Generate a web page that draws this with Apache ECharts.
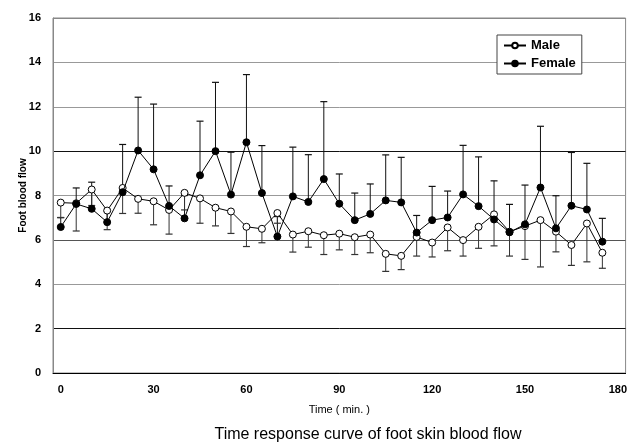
<!DOCTYPE html>
<html>
<head>
<meta charset="utf-8">
<script src="https://cdn.jsdelivr.net/npm/echarts@6/dist/echarts.min.js"></script>
<style>
  html, body { margin: 0; padding: 0; background: #fff; }
  #chart { width: 630px; height: 442px; }
</style>
</head>
<body>
<div id="chart"></div>
<script>
// Time after start (min.), one category every 5 minutes
const times = ['0','5','10','15','20','25','30','35','40','45','50','55','60','65','70','75','80','85','90',
  '95','100','105','110','115','120','125','130','135','140','145','150','155','160','165','170','175','180'];

// Male: mean and mean - SD
const maleMean  = [7.68,7.65,8.27,7.32,8.34,7.85,7.74,7.35,8.12,7.87,7.45,7.28,6.59,6.50,7.21,6.24,6.39,6.21,
  6.28,6.12,6.24,5.37,5.28,6.13,5.88,6.56,5.99,6.59,7.15,6.37,6.62,6.89,6.37,5.77,6.74,5.42];
const maleLower = [7.01,6.40,7.55,6.46,7.19,7.20,6.68,6.26,7.35,6.75,6.63,6.29,5.70,5.87,6.75,5.45,5.67,5.34,
  5.55,5.34,5.42,4.58,4.66,5.27,5.23,5.51,5.27,5.62,5.73,5.27,5.12,4.78,5.46,4.85,5.01,4.72];

// Female: mean and mean + SD
const femaleMean  = [6.58,7.62,7.40,6.80,8.15,10.03,9.18,7.53,6.97,8.91,10.00,8.04,10.40,8.11,6.15,7.96,7.71,8.74,
  7.63,6.89,7.17,7.78,7.69,6.33,6.89,7.01,8.05,7.52,6.92,6.34,6.70,8.36,6.52,7.54,7.37,5.92];
const femaleUpper = [7.00,8.34,8.60,7.30,10.30,12.43,12.12,8.43,8.00,11.35,13.10,9.95,13.45,10.25,7.05,10.18,9.84,12.23,
  8.97,8.11,8.52,9.83,9.72,7.10,8.41,8.20,10.26,9.74,8.66,7.60,8.47,11.12,7.99,9.94,9.45,6.97];

const yMin = 0, yMax = 16, yStep = 2;

const FONT = '"Liberation Sans", Arial, sans-serif';

function barData(mean, bound) {
  return mean.map((m, i) => [i, m, bound[i]]);
}

// One-sided error bar: stem from the mean to the bound, with a cap at the bound
function errorBar(color) {
  return function (params, api) {
    const x = api.value(0);
    const a = api.coord([x, api.value(1)]);
    const b = api.coord([x, api.value(2)]);
    const half = 3.5;
    return {
      type: 'group',
      children: [
        { type: 'line', shape: { x1: a[0], y1: a[1], x2: b[0], y2: b[1] },
          style: { stroke: color, lineWidth: 1 } },
        { type: 'line', shape: { x1: b[0] - half, y1: b[1], x2: b[0] + half, y2: b[1] },
          style: { stroke: color, lineWidth: 1.2 } }
      ]
    };
  };
}

const chart = echarts.init(document.getElementById('chart'), null, { renderer: 'canvas' });

chart.setOption({
  animation: false,
  backgroundColor: '#fff',
  textStyle: { fontFamily: FONT },
  title: {
    text: 'Time response curve of foot skin blood flow',
    left: 363,
    textAlign: 'center',
    top: 422,
    textStyle: { fontFamily: FONT, fontSize: 16, fontWeight: 'normal', color: '#000' }
  },
  legend: {
    data: ['Male', 'Female'],
    orient: 'vertical',
    left: 497,
    top: 35,
    padding: [4, 6, 4, 6],
    itemGap: 5,
    itemWidth: 22,
    itemHeight: 7,
    backgroundColor: '#fff',
    borderColor: '#444',
    borderWidth: 1,
    borderRadius: 0,
    textStyle: { fontFamily: FONT, fontSize: 13, fontWeight: 'bold', color: '#000' }
  },
  grid: {
    left: 53, right: 3, top: 18, bottom: 69,
    show: true, borderColor: '#888', borderWidth: 1, backgroundColor: 'transparent'
  },
  xAxis: {
    type: 'category',
    data: times,
    boundaryGap: true,
    name: 'Time ( min. )',
    nameLocation: 'middle',
    nameGap: 31,
    nameMoveOverlap: false,
    nameTextStyle: { fontFamily: FONT, fontSize: 11, color: '#000' },
    axisLine: { lineStyle: { color: '#000', width: 1 } },
    axisTick: { inside: true, length: 4, interval: 0, lineStyle: { color: '#000' } },
    axisLabel: { interval: 5, margin: 11, fontFamily: FONT, fontSize: 11, fontWeight: 'bold', color: '#000' },
    splitLine: { show: false }
  },
  yAxis: {
    type: 'value',
    min: yMin, max: yMax, interval: yStep,
    name: 'Foot blood flow',
    nameLocation: 'middle',
    nameRotate: 90,
    nameGap: 25,
    nameMoveOverlap: false,
    nameTextStyle: { fontFamily: FONT, fontSize: 10, fontWeight: 'bold', color: '#000' },
    axisLine: { show: true, lineStyle: { color: '#888' } },
    axisTick: { show: false },
    axisLabel: { margin: 12, fontFamily: FONT, fontSize: 11, fontWeight: 'bold', color: '#000' },
    splitLine: {
      show: true,
      lineStyle: {
        width: 1,
        color: ['#000', '#111', '#999', '#555', '#999', '#111', '#999', '#999', '#888']
      }
    }
  },
  series: [
    {
      type: 'custom',
      name: 'Female SD',
      renderItem: errorBar('#111'),
      data: barData(femaleMean, femaleUpper),
      encode: { x: 0, y: [1, 2] },
      z: 2,
      silent: true
    },
    {
      type: 'custom',
      name: 'Male SD',
      renderItem: errorBar('#333'),
      data: barData(maleMean, maleLower),
      encode: { x: 0, y: [1, 2] },
      z: 2,
      silent: true
    },
    {
      type: 'line',
      name: 'Male',
      data: maleMean,
      symbol: 'circle',
      symbolSize: 7,
      showAllSymbol: true,
      lineStyle: { color: '#000', width: 1 },
      itemStyle: { color: '#fff', borderColor: '#000', borderWidth: 1 },
      z: 4
    },
    {
      type: 'line',
      name: 'Female',
      data: femaleMean,
      symbol: 'circle',
      symbolSize: 7,
      showAllSymbol: true,
      lineStyle: { color: '#000', width: 1 },
      itemStyle: { color: '#000', borderColor: '#000', borderWidth: 1 },
      z: 5
    }
  ]
});
</script>
</body>
</html>
